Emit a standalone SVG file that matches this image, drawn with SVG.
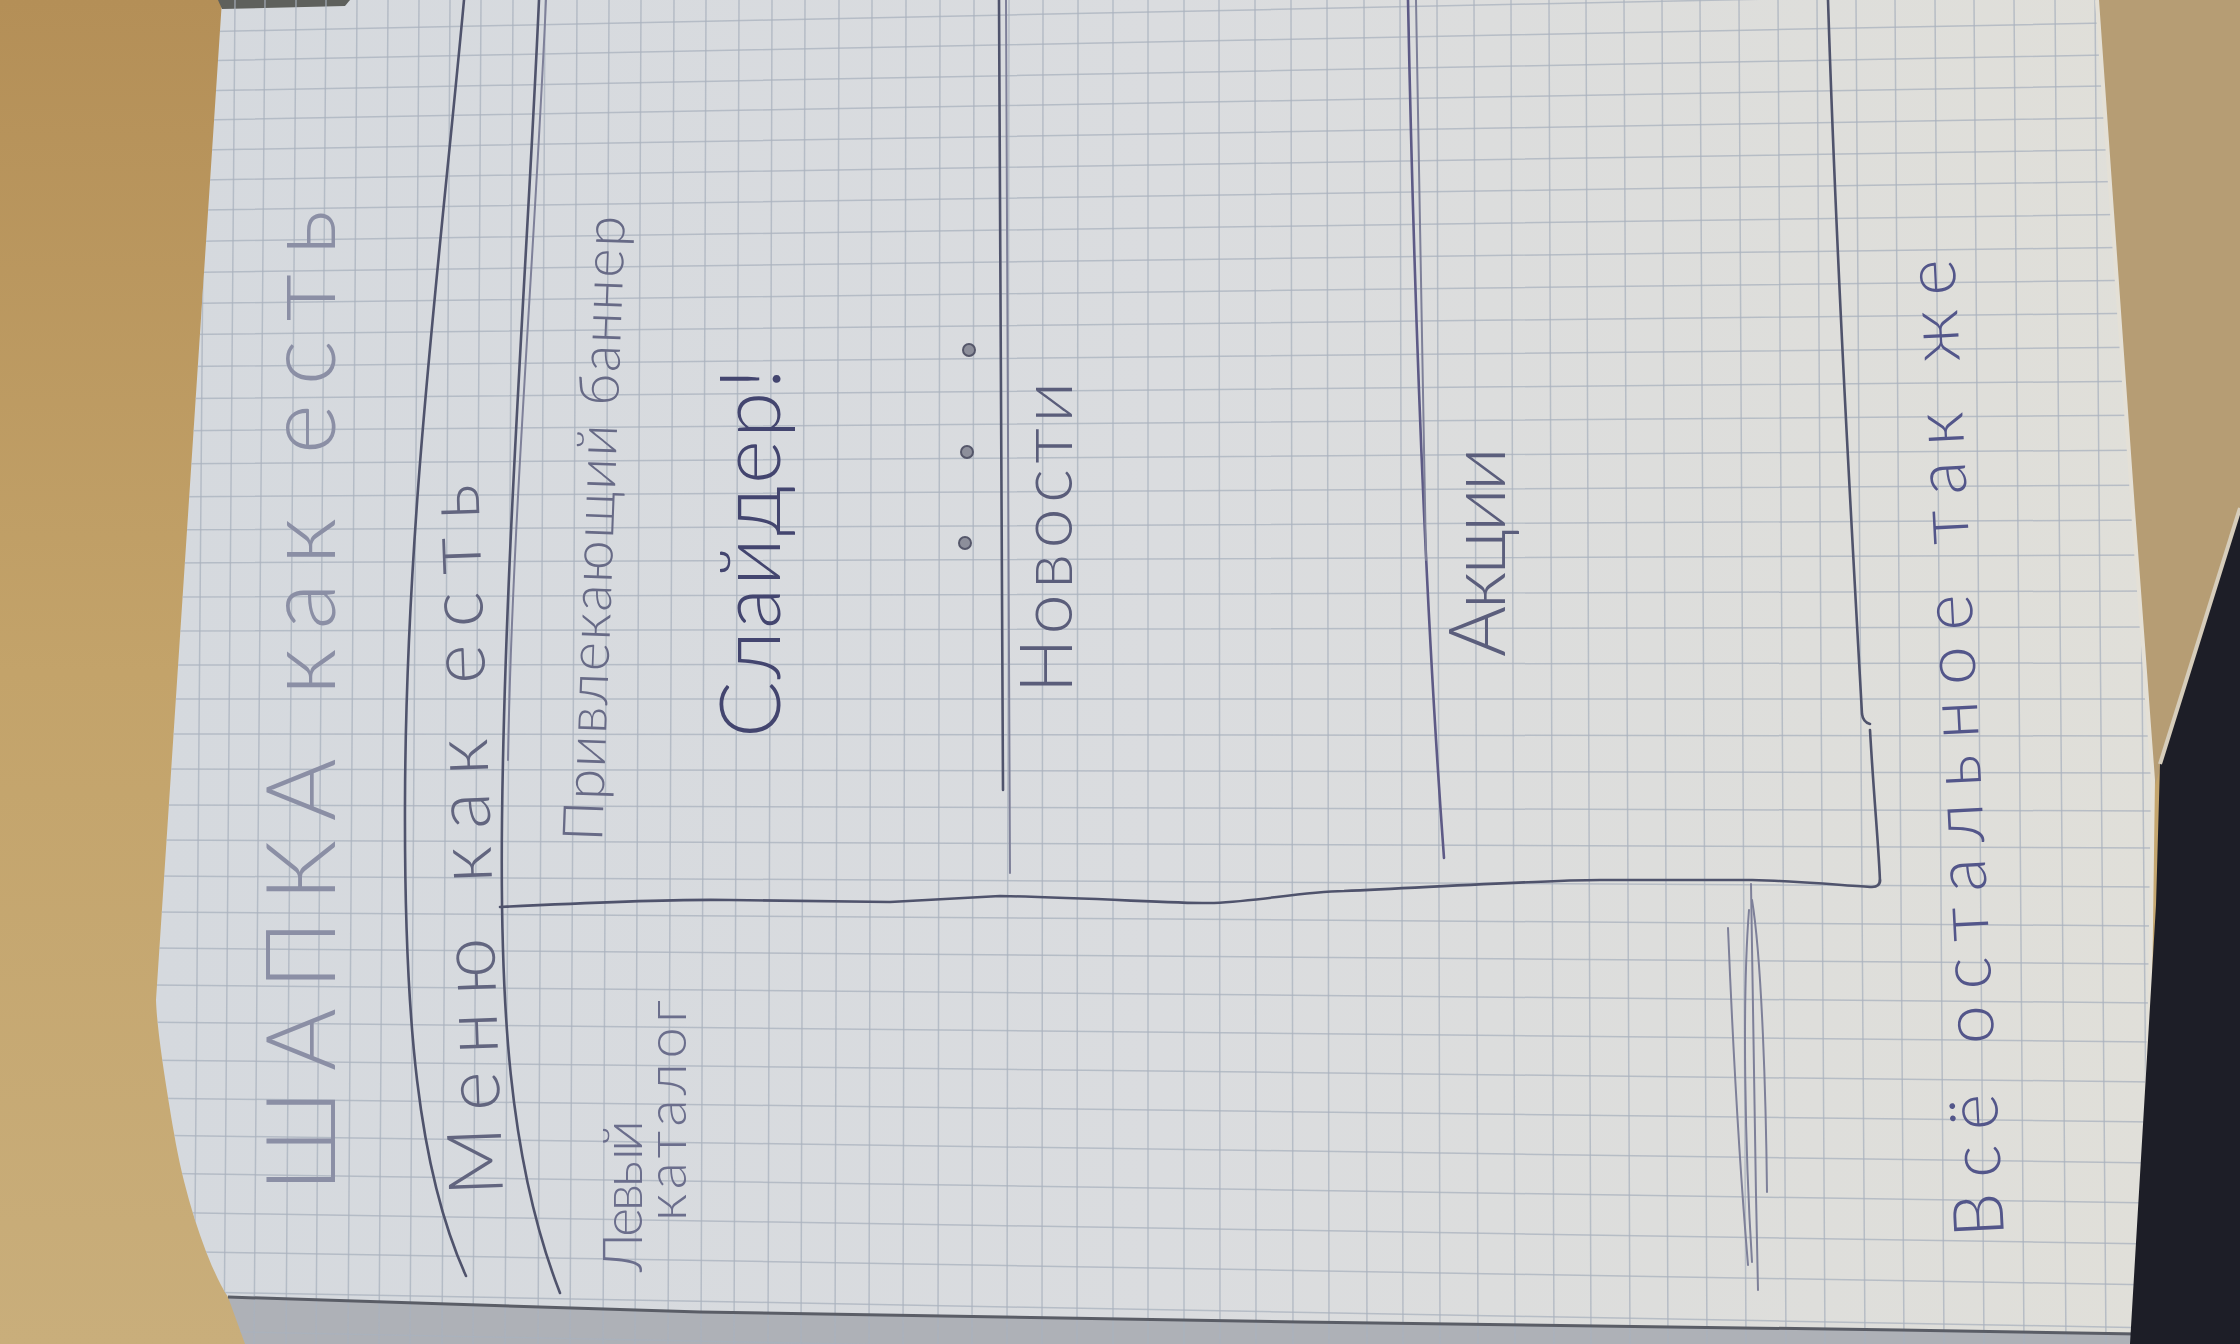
<svg xmlns="http://www.w3.org/2000/svg" width="2240" height="1344" viewBox="0 0 2240 1344">
  <defs>
    <linearGradient id="tanLeft" x1="0" y1="0" x2="0" y2="1">
      <stop offset="0" stop-color="#b48f57"/>
      <stop offset="0.5" stop-color="#c3a36a"/>
      <stop offset="1" stop-color="#c9ae7b"/>
    </linearGradient>
    <linearGradient id="paper" x1="0" y1="0" x2="1" y2="0">
      <stop offset="0" stop-color="#d5d9de"/>
      <stop offset="0.5" stop-color="#dadcdf"/>
      <stop offset="1" stop-color="#e0dfd9"/>
    </linearGradient>
    <clipPath id="sheetClip">
      <path d="M222,0 L2097,0 L2133,510 L2153,780 L2150,1000 L2138,1334 L2130,1344 L245,1344 L228,1297 C210,1270 185,1200 174,1133 C165,1080 157,1030 156,1000 L222,0 Z"/>
    </clipPath>
    <filter id="soft" x="-2%" y="-2%" width="104%" height="104%">
      <feGaussianBlur stdDeviation="0.7"/>
    </filter>
    <style>
      .grid { fill: none; stroke: #a9b1bd; stroke-width: 1.5; opacity: 0.75; }
      .pen { fill: none; stroke: #50536c; stroke-width: 2.6; stroke-linecap: round; stroke-linejoin: round; }
      .pen-faint { fill: none; stroke: #7e8099; stroke-width: 2; stroke-linecap: round; }
      .pen-violet { fill: none; stroke: #5d5a86; stroke-width: 2.6; stroke-linecap: round; }
      .hand { font-family: Lato, "Open Sans", "DejaVu Sans", sans-serif; font-weight: 300; }
      .dot { fill: #8d8f9b; stroke: #55576a; stroke-width: 2; }
    </style>
  </defs>

  <!-- table surface -->
  <rect x="0" y="0" width="2240" height="1344" fill="url(#tanLeft)"/>
  <path d="M2090,0 L2240,0 L2240,520 L2160,770 L2150,800 Z" fill="#b69d74"/>

  <!-- notebook sheet -->
  <path d="M222,0 L2097,0 L2133,510 L2153,780 L2150,1000 L2138,1334 L1900,1330 L1300,1322 L700,1312 L228,1297 C210,1270 185,1200 174,1133 C165,1080 157,1030 156,1000 L222,0 Z" fill="url(#paper)"/>
  <!-- lower sheet showing under the page edge -->
  <path d="M228,1297 L700,1312 L1300,1322 L1900,1330 L2138,1334 L2130,1344 L245,1344 Z" fill="#aeb1b7"/>
  <!-- dark strip at the top edge -->
  <path d="M218,0 L350,0 L345,6 L222,9 Z" fill="#5e605c"/>

  <!-- squared grid -->
  <g clip-path="url(#sheetClip)" filter="url(#soft)">
    <path class="grid" d="M205 0L194 1344M235 0L224 1344M265 0L254 1344M296 0L286 1344M326 0L316 1344M357 0L348 1344M388 0L379 1344M419 0L410 1344M450 0L442 1344M481 0L473 1344M513 0L505 1344M545 0L538 1344M577 0L570 1344M609 0L603 1344M641 0L635 1344M674 0L668 1344M706 0L701 1344M739 0L734 1344M772 0L768 1344M805 0L801 1344M839 0L835 1344M872 0L869 1344M906 0L903 1344M940 0L938 1344M974 0L972 1344M1009 0L1007 1344M1043 0L1042 1344M1078 0L1077 1344M1113 0L1113 1344M1148 0L1148 1344M1184 0L1184 1344M1219 0L1220 1344M1255 0L1256 1344M1291 0L1293 1344M1327 0L1329 1344M1364 0L1367 1344M1400 0L1403 1344M1437 0L1440 1344M1474 0L1478 1344M1511 0L1515 1344M1549 0L1554 1344M1586 0L1591 1344M1624 0L1630 1344M1662 0L1668 1344M1700 0L1707 1344M1739 0L1746 1344M1778 0L1786 1344M1817 0L1825 1344M1856 0L1865 1344M1895 0L1904 1344M1935 0L1944 1344M1974 0L1984 1344M2014 0L2024 1344M2055 0L2066 1344M2095 0L2106 1344M2136 0L2148 1344"/>
    <path class="grid" d="M140 33L2160 -9M140 62L2160 22M140 92L2160 54M140 121L2160 85M140 151L2160 117M140 181L2160 149M140 211L2160 181M140 242L2160 214M140 273L2160 247M140 304L2160 280M140 335L2160 313M140 367L2160 347M140 399L2160 381M140 431L2160 415M140 464L2160 450M140 497L2160 485M140 530L2160 520M140 563L2160 555M140 597L2160 591M140 631L2160 627M140 665L2160 663M140 699L2160 699M140 734L2160 736M140 769L2160 773M140 805L2160 811M140 840L2160 848M140 876L2160 887M140 912L2160 926M140 948L2160 964M140 985L2160 1003M140 1022L2160 1042M140 1060L2160 1082M140 1098L2160 1122M140 1135L2160 1163M140 1173L2160 1203M140 1212L2160 1244M140 1251L2160 1285M140 1291L2160 1328M140 1330L2160 1370"/>
  </g>

  <!-- page edges -->
  <path d="M228,1297 L700,1312 L1300,1322 L1900,1330 L2138,1334" fill="none" stroke="#5a5d66" stroke-width="3"/>
  <path d="M2097,0 L2133,510 L2153,780 L2150,1000 L2138,1334" fill="none" stroke="#e4e0d6" stroke-width="4"/>

  <!-- dark corner at the lower right -->
  <path d="M2240,508 L2160,764 L2156,905 L2130,1344 L2240,1344 Z" fill="#1d1e27"/>
  <path d="M2240,508 L2160,764" fill="none" stroke="#d6cdbb" stroke-width="4"/>

  <!-- sketched layout lines -->
  <g id="connectors" filter="url(#soft)">
    <!-- header boundary -->
    <path class="pen" d="M464,0 C440,260 406,520 405,800 C404,1020 418,1170 466,1276"/>
    <!-- menu boundary (double stroke) -->
    <path class="pen" d="M539,0 C528,250 505,550 502,820 C500,1000 508,1160 560,1293"/>
    <path class="pen-faint" d="M546,0 C535,250 512,520 508,760"/>
    <!-- catalogue / content divider -->
    <path class="pen" d="M500,907 C600,902 680,899 730,900 L890,902 L1000,896 C1100,898 1180,904 1214,903 C1260,901 1300,892 1344,891 C1450,886 1550,880 1600,880 L1752,880 C1800,881 1850,886 1872,887 Q1880,887 1880,880"/>
    <!-- content bottom edge -->
    <path class="pen" d="M1828,0 C1836,250 1850,500 1862,714 Q1863,722 1870,724"/>
    <path class="pen" d="M1870,730 C1874,800 1879,850 1880,882"/>
    <!-- catalogue bottom strokes -->
    <path class="pen-faint" d="M1751,884 C1752,1000 1755,1150 1758,1290"/>
    <path class="pen-faint" d="M1728,928 C1733,1050 1740,1170 1748,1265"/>
    <path class="pen-faint" d="M1752,900 C1762,960 1766,1100 1767,1192"/>
    <path class="pen-faint" d="M1749,910 C1742,1000 1745,1150 1752,1262"/>
    <!-- slider / news divider -->
    <path class="pen" d="M999,0 C1001,300 1002,600 1003,790"/>
    <path class="pen-faint" d="M1006,0 C1008,300 1009,600 1010,873"/>
    <!-- news / promotions divider -->
    <path class="pen-violet" d="M1408,0 C1414,300 1425,600 1444,858"/>
    <path class="pen-faint" d="M1416,0 C1420,200 1423,400 1426,560"/>
  </g>

  <!-- labels -->
  <g id="header">
    <text class="hand" transform="translate(335,1192) rotate(-90)" font-size="96" fill="#8b8fa5" textLength="982" lengthAdjust="spacing">ШАПКА как есть</text>
  </g>
  <g id="menu">
    <text class="hand" transform="translate(503,1195) rotate(-92)" font-size="76" fill="#62657f" textLength="712" lengthAdjust="spacing">Меню как есть</text>
  </g>
  <g id="catalog">
    <text class="hand" transform="translate(642,1272) rotate(-90)" font-size="56" fill="#6b6e8c" textLength="152" lengthAdjust="spacing">Левый</text>
    <text class="hand" transform="translate(686,1221) rotate(-90)" font-size="56" fill="#6b6e8c" textLength="221" lengthAdjust="spacing">каталог</text>
  </g>
  <g id="banner">
    <text class="hand" transform="translate(602,842) rotate(-87.9)" font-size="56" fill="#676a86" textLength="626" lengthAdjust="spacing">Привлекающий баннер</text>
  </g>
  <g id="slider">
    <text class="hand" transform="translate(780,738) rotate(-90)" font-size="84" font-weight="400" fill="#43456f" textLength="370" lengthAdjust="spacing">Слайдер!</text>
    <circle class="dot" cx="969" cy="350" r="6"/>
    <circle class="dot" cx="967" cy="452" r="6"/>
    <circle class="dot" cx="965" cy="543" r="6"/>
  </g>
  <g id="news">
    <text class="hand" transform="translate(1072,693) rotate(-90)" font-size="72" fill="#5a5d7a" textLength="311" lengthAdjust="spacing">Новости</text>
  </g>
  <g id="promo">
    <text class="hand" transform="translate(1505,657) rotate(-90)" font-size="78" fill="#5b5e7c" textLength="210" lengthAdjust="spacing">Акции</text>
  </g>
  <g id="rest">
    <text class="hand" transform="translate(2004,1236) rotate(-92.9)" font-size="70" font-weight="400" fill="#53568a" textLength="979" lengthAdjust="spacing">Всё остальное так же</text>
  </g>
</svg>
